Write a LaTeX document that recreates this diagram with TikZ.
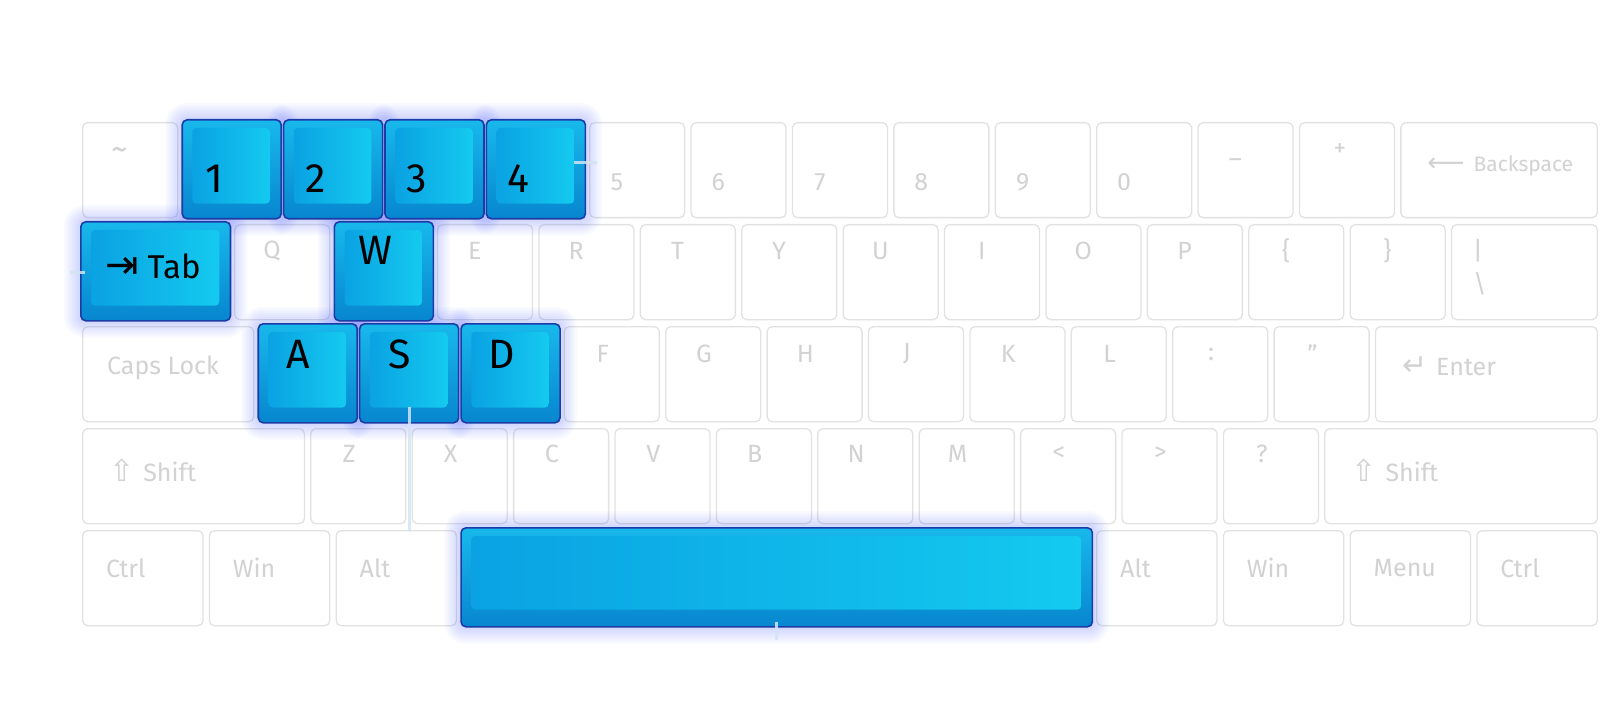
\documentclass[tikz,border=0pt]{standalone}
\usepackage{fontspec}
\setmainfont{Fira Sans}
\newfontfamily\arrowfont{DejaVu Sans}
\usepackage{tikz}
\usetikzlibrary{calc}
\pgfdeclarelayer{glow}
\pgfdeclarelayer{top}
\pgfsetlayers{main,glow,top}
\definecolor{keyedge}{HTML}{E2E2E2}
\definecolor{keyink}{HTML}{D2D2D2}
\definecolor{keyrim}{HTML}{1B3CA6}
\definecolor{capdark}{HTML}{0786CF}
\definecolor{caplight}{HTML}{18B8EC}
\definecolor{facedark}{HTML}{0AA2E3}
\definecolor{facelight}{HTML}{14CAEF}
\definecolor{haze}{HTML}{4F63FF}
\definecolor{stubtint}{HTML}{D2E4F4}
\tikzset{
  white_key/.style = {rectangle, anchor=north west, inner sep=0pt,
    draw=keyedge, fill=white, line width=1.3pt, rounded corners=5pt,
    minimum width=95pt, minimum height=95pt},% touche blanche
  blue_key/.style = {rectangle, anchor=north west, inner sep=0pt,
    draw=keyrim, line width=1.6pt, rounded corners=5pt,
    top color=caplight, bottom color=capdark,
    minimum width=99pt, minimum height=99pt},% touche bleue
  key_face/.style = {rounded corners=4pt, left color=facedark,
    right color=facelight},% dessus de la touche bleue
  key_label/.style = {inner sep=0pt, text=keyink,
    font=\fontsize{25}{25}\selectfont},
  blue_label/.style = {inner sep=0pt, text=black,
    font=\fontsize{41}{41}\selectfont},
  halo/.style = {fill=haze, opacity=.032},
  stub/.style = {draw=stubtint, line width=3pt, opacity=.85}
}

\begin{document}
\begin{tikzpicture}[x=1pt, y=-1pt]
  \fill [white] (0,0) rectangle (1600,711);
  \useasboundingbox (0,0) rectangle (1600,711);

  % rangee 1
  \node [white_key] (tilde) at (82,122) {};
  \node [key_label, font=\fontsize{34}{34}\selectfont] (tilde_t)
    at ($(tilde.north west)+(38,32)$) {\textasciitilde};
  \foreach \nm/\col in {5/5, 6/6, 7/7, 8/8, 9/9, 0/10} {
    \node [white_key] (k\nm) at ({82+\col*101.4},122) {};
    \node [key_label] (k\nm_t) at ($(k\nm.north west)+(28,60)$) {\nm};
  }
  \node [white_key] (minus) at ({82+11*101.4},122) {};
  \node [key_label] (minus_t) at ($(minus.north west)+(38,41)$) {–};
  \node [white_key] (plus) at ({82+12*101.4},122) {};
  \node [key_label] (plus_t) at ($(plus.north west)+(41,28)$) {+};
  \node [white_key, minimum width=196.4pt] (bksp) at ({82+13*101.4},122) {};
  \node [key_label, anchor=west, font=\fontsize{21}{21}\selectfont] (bksp_t)
    at ($(bksp.north west)+(27,44)$) {{\arrowfont\fontsize{26}{26}\selectfont ⟵}\hspace{9pt}Backspace};

  % rangee 2
  \foreach \nm/\col/\lbl in {q/1.5/Q, e/3.5/E, r/4.5/R, t/5.5/T, y/6.5/Y,
      u/7.5/U, i/8.5/I, o/9.5/O, p/10.5/P, lbrace/11.5/{\{}, rbrace/12.5/{\}}} {
    \node [white_key] (\nm) at ({82+\col*101.4},224) {};
    \node [key_label] (\nm_t) at ($(\nm.north west)+(38,27)$) {\lbl};
  }
  \node [white_key, minimum width=145.7pt] (pipe) at ({82+13.5*101.4},224) {};
  \node [key_label] (pipe_t) at ($(pipe.north west)+(27,27)$) {|};
  \node [key_label] (bslash_t) at ($(pipe.north west)+(29,60)$) {\textbackslash};

  % rangee 3
  \node [white_key, minimum width=171.05pt] (caps) at (82,326) {};
  \node [key_label, anchor=west] (caps_t) at ($(caps.north west)+(25,42)$) {Caps Lock};
  \foreach \nm/\col/\lbl in {f/4.75/F, g/5.75/G, h/6.75/H, j/7.75/J, k/8.75/K,
      l/9.75/L, colon/10.75/:, quote/11.75/”} {
    \node [white_key] (\nm) at ({82+\col*101.4},326) {};
    \node [key_label] (\nm_t) at ($(\nm.north west)+(39,28)$) {\lbl};
  }
  \node [white_key, minimum width=221.75pt] (enter) at ({82+12.75*101.4},326) {};
  \node [key_label, anchor=west] (enter_t) at ($(enter.north west)+(27,40)$)
    {{\arrowfont\fontsize{30}{30}\selectfont ↵}\hspace{9pt}Enter};

  % rangee 4
  \node [white_key, minimum width=221.75pt] (lshift) at (82,428) {};
  \node [key_label, anchor=west] (lshift_t) at ($(lshift.north west)+(27,42)$)
    {{\arrowfont\fontsize{30}{30}\selectfont ⇧}\hspace{9pt}Shift};
  \foreach \nm/\col/\lbl in {z/2.25/Z, x/3.25/X, c/4.25/C, v/5.25/V, b/6.25/B,
      n/7.25/N, m/8.25/M, less/9.25/<, more/10.25/>, quest/11.25/?} {
    \node [white_key] (\nm) at ({82+\col*101.4},428) {};
    \node [key_label] (\nm_t) at ($(\nm.north west)+(39,26)$) {\lbl};
  }
  \node [white_key, minimum width=272.45pt] (rshift) at ({82+12.25*101.4},428) {};
  \node [key_label, anchor=west] (rshift_t) at ($(rshift.north west)+(27,42)$)
    {{\arrowfont\fontsize{30}{30}\selectfont ⇧}\hspace{9pt}Shift};

  % rangee 5
  \foreach \nm/\col/\lbl in {lctrl/0/Ctrl, lwin/1.25/Win, lalt/2.5/Alt,
      ralt/10/Alt, rwin/11.25/Win, menu/12.5/Menu, rctrl/13.75/Ctrl} {
    \node [white_key, minimum width=120.35pt] (\nm) at ({82+\col*101.4},530) {};
    \node [key_label, anchor=west] (\nm_t) at ($(\nm.north west)+(24,38)$) {\lbl};
  }

  % touches en bleu
  \begin{pgfonlayer}{top}
    \foreach \nm/\col in {1/1, 2/2, 3/3, 4/4} {
      \node [blue_key] (k\nm) at ({80+\col*101.4},119) {};
      \shade [key_face] ($(k\nm.north west)+(11,9)$) rectangle ($(k\nm.south east)+(-12,-16)$);
      \node [blue_label] (k\nm_t) at ($(k\nm.north west)+(33,60)$) {\nm};
    }
    \node [blue_key, minimum width=149.7pt] (tab) at (80,221) {};
    \shade [key_face] ($(tab.north west)+(11,9)$) rectangle ($(tab.south east)+(-12,-16)$);
    \node [blue_label, anchor=west, font=\fontsize{33}{33}\selectfont] (tab_t)
      at ($(tab.north west)+(25,45)$) {{\arrowfont\fontsize{40}{40}\selectfont ⇥}\hspace{9pt}Tab};
    \node [blue_key] (w) at ({80+2.5*101.4},221) {};
    \shade [key_face] ($(w.north west)+(11,9)$) rectangle ($(w.south east)+(-12,-16)$);
    \node [blue_label] (w_t) at ($(w.north west)+(42,29)$) {W};
    \foreach \nm/\col/\lbl in {a/1.75/A, s/2.75/S, d/3.75/D} {
      \node [blue_key] (\nm) at ({80+\col*101.4},323) {};
      \shade [key_face] ($(\nm.north west)+(11,9)$) rectangle ($(\nm.south east)+(-12,-16)$);
      \node [blue_label] (\nm_t) at ($(\nm.north west)+(41,31)$) {\lbl};
    }
    \node [blue_key, minimum width=631.35pt] (space) at ({80+3.75*101.4},527) {};
    \shade [key_face] ($(space.north west)+(11,9)$) rectangle ($(space.south east)+(-12,-18)$);

    % petits traits clairs
    \draw [stub] ($(k4.east)+(-12,-7)$) -- ++(23,0);
    \draw [stub] ($(tab.west)+(-10,1)$) -- ++(15,0);
    \draw [stub] ($(s.south)+(0,-17)$) -- ++(0,124);
    \draw [stub] ($(space.south)+(0,-6)$) -- ++(0,18);
  \end{pgfonlayer}

  % lueur autour des touches bleues
  \begin{pgfonlayer}{glow}
    \foreach \nm in {k1, k2, k3, k4, tab, w, a, s, d, space}
      \foreach \g in {2, 4, ..., 16}
        \fill [halo, rounded corners={(\g+5)*1pt}]
          ($(\nm.north west)+(-\g,-\g)$) rectangle ($(\nm.south east)+(\g,\g)$);
  \end{pgfonlayer}
\end{tikzpicture}
\end{document}
